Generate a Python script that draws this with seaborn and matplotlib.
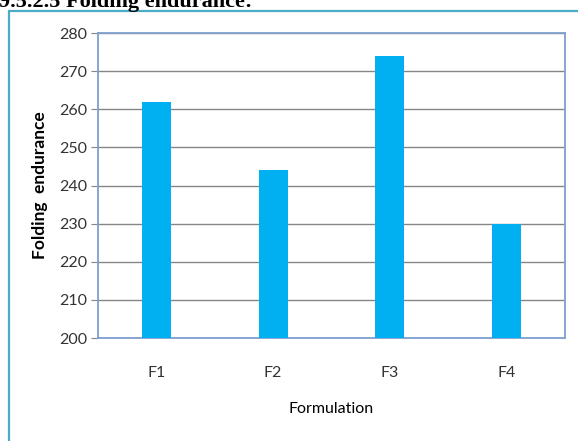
import matplotlib
matplotlib.use("Agg")
import matplotlib.pyplot as plt
import matplotlib.patches as mpatches
import seaborn as sns
import pandas as pd

categories = ["F1", "F2", "F3", "F4"]
folding_endurance = [262, 244, 274, 230]
y_ticks = [200, 210, 220, 230, 240, 250, 260, 270, 280]

sns.set_theme(style="white")
plt.rcParams["font.family"] = ["Lato", "DejaVu Sans"]

df = pd.DataFrame({"Formulation": categories, "Folding endurance": folding_endurance})

fig = plt.figure(figsize=(5.78, 4.41), dpi=100)
fig.patch.set_facecolor("white")

# outer chart frame
frame = mpatches.Rectangle((8.5 / 578, -0.05), 1.2, (441 - 11) / 441 + 0.05,
                           transform=fig.transFigure, fill=False,
                           edgecolor="#4bacc6", linewidth=1.6, zorder=0)
fig.patches.append(frame)

# section heading, partially clipped at the top edge
fig.text(-0.002, 0.984, "9.5.2.5 Folding endurance:", family="Liberation Serif",
         fontweight="bold", fontsize=16, ha="left", va="baseline", color="black")

ax = fig.add_axes([98 / 578, 103 / 441, 467 / 578, 305 / 441])
sns.barplot(data=df, x="Formulation", y="Folding endurance", color="#00b0f0",
            saturation=1, width=0.25, linewidth=0, ax=ax, zorder=3)

ax.set_ylim(200, 280)
ax.set_yticks(y_ticks)
ax.yaxis.grid(True, color="#868686", linewidth=1.0, zorder=0)
ax.set_axisbelow(True)
for s in ax.spines.values():
    s.set_color("#7f9fcf")
    s.set_linewidth(1.3)

ax.tick_params(axis="y", which="both", left=True, length=5, width=0.8,
               color="#868686", labelsize=11.5, labelcolor="#333333", pad=3)
ax.tick_params(axis="x", bottom=False, labelsize=11.5, labelcolor="#333333", pad=14)

ax.set_ylabel("Folding  endurance", fontsize=12.5, fontweight="bold", color="black", labelpad=8)
ax.set_xlabel("Formulation", fontsize=11.5, color="black", labelpad=16)

fig.savefig("out.png", dpi=100, facecolor="white")
